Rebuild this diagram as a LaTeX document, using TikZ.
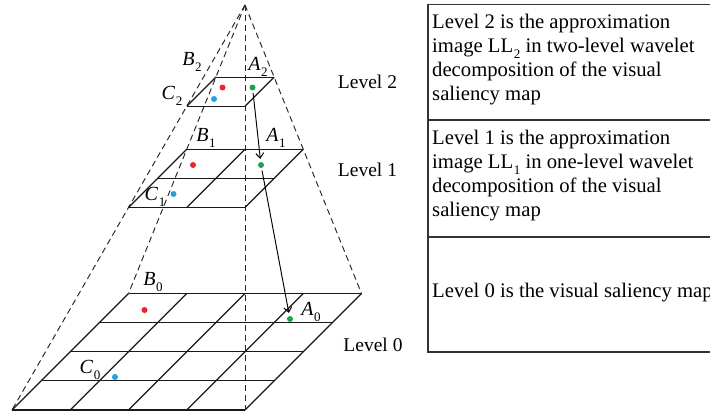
\documentclass[tikz,border=0pt]{standalone}
\usepackage{fontspec}
\setmainfont{Liberation Serif}
\usetikzlibrary{arrows.meta}
\newcommand\lsub[1]{\kern0.03em\raisebox{-0.28em}{\fontsize{13}{13}\selectfont #1}}
\definecolor{dotred}{HTML}{E8262B}
\definecolor{dotblue}{HTML}{2A9FD8}
\definecolor{dotgreen}{HTML}{1FA24E}
\tikzset{
  gridline/.style={line width=1.15pt, black!90},
  pyrdash/.style={line width=0.95pt, black!85, dash pattern=on 6pt off 4pt},
  dotnode/.style={circle, fill=#1, draw=none, inner sep=0pt, minimum size=6pt},
  ptlabel/.style={inner sep=0pt, font=\fontsize{20}{20}\selectfont},
  levlabel/.style={inner sep=0pt, font=\fontsize{19.5}{20}\selectfont},
  tabtext/.style={inner sep=0pt, align=left, font=\fontsize{20.7}{24}\selectfont},
  tabline/.style={line width=1.2pt, black!80},
  arr/.style={line width=0.95pt, -{Straight Barb[length=5pt,width=8pt]}, shorten <=2.5pt, shorten >=3pt}
}
\begin{document}
\begin{tikzpicture}[x=1pt,y=-1pt]
\clip (0,0) rectangle (710,415);
\fill[white] (0,0) rectangle (710,415);

% apex and base corners
\coordinate (apex) at (245,5);
\coordinate (fl0) at (12,410);
\coordinate (fr0) at (245,410);
\coordinate (bl0) at (128.5,293.5);
\coordinate (br0) at (361.5,293.5);

\draw[pyrdash] (apex) -- (fl0);
\draw[pyrdash] (apex) -- (fr0);
\draw[pyrdash] (apex) -- (bl0);
\draw[pyrdash] (apex) -- (br0);

% grids: W, yb, n
\foreach \W/\yb/\n in {233/410/4, 116.5/207.5/2, 58.25/106.25/1}{
  \foreach \i in {0,...,\n}{
    \pgfmathsetmacro\v{\i*\W/(2*\n)}
    \pgfmathsetmacro\u{\i*\W/\n}
    \draw[gridline] (245-\W+\v,\yb-\v) -- (245+\v,\yb-\v);
    \draw[gridline] (245-\W+\u,\yb) -- (245-\W/2+\u,\yb-\W/2);
  }
}

% dots
\node[dotnode=dotred]   (b2) at (222.5,87.5) {};
\node[dotnode=dotblue]  (c2) at (214,99) {};
\node[dotnode=dotgreen] (a2) at (252.5,87.5) {};
\node[dotnode=dotred]   (b1) at (193,165) {};
\node[dotnode=dotgreen] (a1) at (261,165) {};
\node[dotnode=dotblue]  (c1) at (173.5,194) {};
\node[dotnode=dotred]   (b0) at (144.5,310) {};
\node[dotnode=dotgreen] (a0) at (290,319) {};
\node[dotnode=dotblue]  (c0) at (115,377) {};

% arrows
\draw[arr] (a2) -- (a1);
\draw[arr] (a1) -- (a0);

% point labels
\node[ptlabel] (lb2) at (192,62) {\textit{B}\lsub{2}};
\node[ptlabel] (la2) at (258,67) {\textit{A}\lsub{2}};
\node[ptlabel] (lc2) at (172,96) {\textit{C}\lsub{2}};
\node[ptlabel] (lb1) at (206,138) {\textit{B}\lsub{1}};
\node[ptlabel] (la1) at (276,138) {\textit{A}\lsub{1}};
\node[ptlabel] (lc1) at (155,197) {\textit{C}\lsub{1}};
\node[ptlabel] (lb0) at (153,282) {\textit{B}\lsub{0}};
\node[ptlabel] (la0) at (311,312) {\textit{A}\lsub{0}};
\node[ptlabel] (lc0) at (90,370) {\textit{C}\lsub{0}};

% level labels
\node[levlabel] (lev2) at (367.5,82) {Level 2};
\node[levlabel] (lev1) at (367.5,170) {Level 1};
\node[levlabel] (lev0) at (373,345) {Level 0};

% table
\draw[tabline] (760,4.5) -- (428,4.5) -- (428,352) -- (760,352);
\draw[tabline] (428,120) -- (760,120);
\draw[tabline] (428,237) -- (760,237);
\node[tabtext, anchor=north west] (t2) at (432,14) {Level 2 is the approximation\\image LL\lsub{2} in two-level wavelet\\decomposition of the visual\\saliency map};
\node[tabtext, anchor=north west] (t1) at (432,130) {Level 1 is the approximation\\image LL\lsub{1} in one-level wavelet\\decomposition of the visual\\saliency map};
\node[tabtext, anchor=base west] (t0) at (432,297) {Level 0 is the visual saliency map};
\end{tikzpicture}
\end{document}
